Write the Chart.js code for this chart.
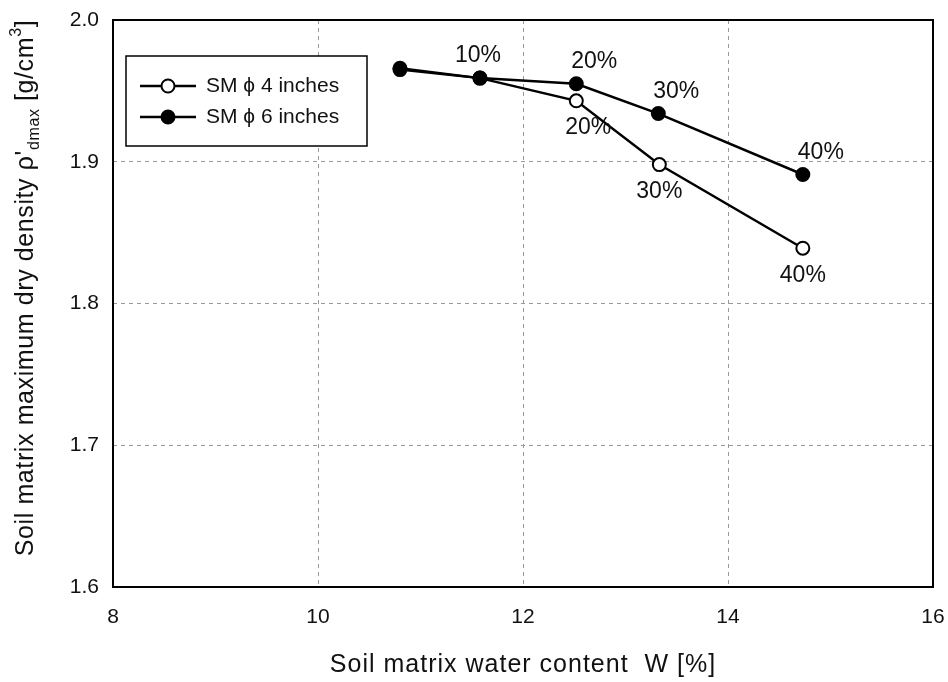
<!DOCTYPE html>
<html>
<head>
<meta charset="utf-8">
<script src="https://cdn.jsdelivr.net/npm/chart.js@4"></script>
<style>
  html, body { margin: 0; padding: 0; background: #fff; }
  #wrap { width: 948px; height: 682px; }
</style>
</head>
<body>
<div id="wrap"><canvas id="grafico"></canvas></div>
<script>
// dados
const agua4 = [10.8, 11.58, 12.52, 13.33, 14.73];
const dens4 = [1.965, 1.959, 1.943, 1.898, 1.839];
const rotulos4 = ["", "", "20%", "30%", "40%"];

const agua6 = [10.8, 11.58, 12.52, 13.32, 14.73];
const dens6 = [1.966, 1.959, 1.955, 1.934, 1.891];
const rotulos6 = ["", "10%", "20%", "30%", "40%"];

const legendas = ["SM \u03D5 4 inches", "SM \u03D5 6 inches"];
const tituloX = "Soil matrix water content  W [%]";
const ticksX = [8, 10, 12, 14, 16];
const ticksY = [1.6, 1.7, 1.8, 1.9, 2.0];

const fonte = "'Liberation Sans', Arial, sans-serif";

function pares(xs, ys) {
  return xs.map((x, i) => ({ x: x, y: ys[i] }));
}

// moldura, legenda, rotulos dos pontos e titulos dos eixos
const desenhosExtras = {
  id: "desenhosExtras",
  afterDatasetsDraw(chart) {
    const ctx = chart.ctx;
    const area = chart.chartArea;
    const sx = chart.scales.x;
    const sy = chart.scales.y;
    ctx.save();

    // moldura do grafico
    ctx.strokeStyle = "#000";
    ctx.lineWidth = 2;
    ctx.strokeRect(area.left, area.top, area.right - area.left, area.bottom - area.top);

    // rotulos de porcentagem
    ctx.fillStyle = "#111";
    ctx.font = "23px " + fonte;
    ctx.textAlign = "center";
    ctx.textBaseline = "middle";
    rotulos6.forEach((t, i) => {
      if (!t) return;
      const px = sx.getPixelForValue(agua6[i]);
      const py = sy.getPixelForValue(dens6[i]);
      ctx.fillText(t, px + (i === 1 ? -2 : 18), py - 22);
    });
    rotulos4.forEach((t, i) => {
      if (!t) return;
      const px = sx.getPixelForValue(agua4[i]);
      const py = sy.getPixelForValue(dens4[i]);
      ctx.fillText(t, px + (i === 2 ? 12 : 0), py + 27);
    });

    // legenda
    const lx = 126, ly = 56, lw = 241, lh = 90;
    ctx.fillStyle = "#fff";
    ctx.fillRect(lx, ly, lw, lh);
    ctx.strokeStyle = "#000";
    ctx.lineWidth = 1.5;
    ctx.strokeRect(lx, ly, lw, lh);
    chart.data.datasets.forEach((ds, i) => {
      const yy = ly + 30 + i * 31;
      ctx.beginPath();
      ctx.moveTo(lx + 14, yy);
      ctx.lineTo(lx + 70, yy);
      ctx.lineWidth = 2.5;
      ctx.strokeStyle = "#000";
      ctx.stroke();
      ctx.beginPath();
      ctx.arc(lx + 42, yy, 6.5, 0, Math.PI * 2);
      ctx.fillStyle = ds.pointBackgroundColor;
      ctx.fill();
      ctx.lineWidth = 2;
      ctx.stroke();
      ctx.fillStyle = "#111";
      ctx.font = "21px " + fonte;
      ctx.textAlign = "left";
      ctx.textBaseline = "middle";
      ctx.fillText(ds.label, lx + 80, yy);
    });

    // titulo do eixo x
    ctx.font = "25px " + fonte;
    ctx.letterSpacing = "1px";
    ctx.textAlign = "center";
    ctx.textBaseline = "alphabetic";
    ctx.fillText(tituloX, (area.left + area.right) / 2, 672);

    // titulo do eixo y com subscrito e sobrescrito
    const partes = [
      { t: "Soil matrix maximum dry density \u03C1'", s: 25, dy: 0 },
      { t: "dmax", s: 16, dy: 6 },
      { t: " [g/cm", s: 25, dy: 0 },
      { t: "3", s: 16, dy: -12 },
      { t: "]", s: 25, dy: 0 }
    ];
    ctx.letterSpacing = "0.6px";
    let total = 0;
    partes.forEach(p => {
      ctx.font = p.s + "px " + fonte;
      total += ctx.measureText(p.t).width;
    });
    ctx.translate(33, 288);
    ctx.rotate(-Math.PI / 2);
    ctx.textAlign = "left";
    let pos = -total / 2;
    partes.forEach(p => {
      ctx.font = p.s + "px " + fonte;
      ctx.fillText(p.t, pos, p.dy);
      pos += ctx.measureText(p.t).width;
    });
    ctx.restore();
  }
};

const canvas = document.getElementById("grafico");

const grafico = new Chart(canvas, {
  type: "line",
  data: {
    datasets: [{
      label: legendas[0],
      data: pares(agua4, dens4),
      order: 1,
      borderColor: "#000",
      borderWidth: 2.5,
      pointBackgroundColor: "#fff",
      pointBorderColor: "#000",
      pointBorderWidth: 2,
      pointRadius: 6.5,
      tension: 0
    }, {
      label: legendas[1],
      data: pares(agua6, dens6),
      order: 0,
      borderColor: "#000",
      borderWidth: 2.5,
      pointBackgroundColor: "#000",
      pointBorderColor: "#000",
      pointBorderWidth: 2,
      pointRadius: 6.5,
      tension: 0
    }]
  },
  options: {
    responsive: true,
    maintainAspectRatio: false,
    animation: false,
    layout: { padding: { top: 20, right: 15, left: 0, bottom: 0 } },
    plugins: {
      legend: { display: false },
      tooltip: { enabled: false }
    },
    scales: {
      x: {
        type: "linear",
        min: ticksX[0],
        max: ticksX[ticksX.length - 1],
        afterBuildTicks: (s) => { s.ticks = ticksX.map(v => ({ value: v })); },
        afterFit: (s) => {
          s.height = 95;
          s.paddingLeft = 0;
          s.paddingRight = 0;
        },
        ticks: {
          color: "#111",
          font: { family: fonte, size: 21 },
          padding: 18
        },
        grid: { color: "#999", tickLength: 0 },
        border: { display: false, dash: [4, 4] }
      },
      y: {
        min: ticksY[0],
        max: ticksY[ticksY.length - 1],
        afterBuildTicks: (s) => { s.ticks = ticksY.map(v => ({ value: v })); },
        afterFit: (s) => {
          s.width = 113;
          s.paddingTop = 0;
          s.paddingBottom = 0;
        },
        ticks: {
          color: "#111",
          font: { family: fonte, size: 21 },
          padding: 14,
          callback: (v) => Number(v).toFixed(1)
        },
        grid: { color: "#999", tickLength: 0 },
        border: { display: false, dash: [4, 4] }
      }
    }
  },
  plugins: [desenhosExtras]
});
</script>
</body>
</html>
